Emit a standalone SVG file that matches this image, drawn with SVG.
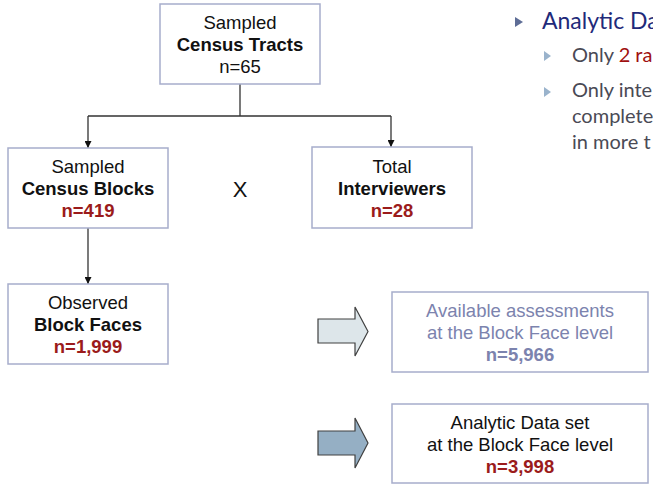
<svg xmlns="http://www.w3.org/2000/svg" width="653" height="487" viewBox="0 0 653 487">
<defs>
<style>
.box{fill:#fff;stroke:#A7ADCB;stroke-width:1.5}
.t{font-family:"Liberation Sans",Arial,sans-serif;font-size:18.5px;text-anchor:middle;fill:#111}
.b{font-weight:bold}
.r{fill:#9B1B1B;font-weight:bold}
.g{fill:#7C83AE}
.conn{fill:none;stroke:#333;stroke-width:1.3}
.arw{stroke:#404040;stroke-width:1.2}
.side{font-family:"Lato","Open Sans",sans-serif;font-size:20px;fill:#4A4A55}
</style>
<marker id="ah" viewBox="0 0 10 10" refX="10" refY="5" markerWidth="7" markerHeight="7" markerUnits="userSpaceOnUse" orient="auto"><path d="M0,0L10,5L0,10z" fill="#111"/></marker>
</defs>
<g id="connectors">
<path class="conn" d="M240,84V116M88,116H391M88,116V148" marker-end="url(#ah)"/>
<path class="conn" d="M391,116V147" marker-end="url(#ah)"/>
<path class="conn" d="M88,228V284" marker-end="url(#ah)"/>
</g>
<g id="tracts">
<rect class="box" x="160" y="4" width="160" height="80"/>
<text class="t" x="240" y="29">Sampled</text>
<text class="t b" x="240" y="51">Census Tracts</text>
<text class="t" x="240" y="73">n=65</text>
</g>
<g id="blocks">
<rect class="box" x="8" y="148" width="160" height="80"/>
<text class="t" x="88" y="173">Sampled</text>
<text class="t b" x="88" y="195">Census Blocks</text>
<text class="t r" x="88" y="217">n=419</text>
</g>
<text class="t" x="240" y="197" style="font-size:22px">X</text>
<g id="interviewers">
<rect class="box" x="312" y="147" width="160" height="81"/>
<text class="t" x="392" y="173">Total</text>
<text class="t b" x="392" y="195">Interviewers</text>
<text class="t r" x="392" y="217">n=28</text>
</g>
<g id="faces">
<rect class="box" x="8" y="284" width="160" height="80"/>
<text class="t" x="88" y="309">Observed</text>
<text class="t b" x="88" y="331">Block Faces</text>
<text class="t r" x="88" y="353">n=1,999</text>
</g>
<g id="arrow1">
<path class="arw" fill="#DDE6EA" d="M318,319H355V307L368,331.5L355,356V343H318Z"/>
</g>
<g id="available">
<rect class="box" x="392" y="292" width="256" height="80"/>
<text class="t g" x="520" y="317">Available assessments</text>
<text class="t g" x="520" y="339">at the Block Face level</text>
<text class="t g b" x="520" y="361">n=5,966</text>
</g>
<g id="arrow2">
<path class="arw" fill="#95AFC4" d="M318,431H355V418L368,443L355,468V455H318Z"/>
</g>
<g id="analytic">
<rect class="box" x="392" y="404" width="256" height="79"/>
<text class="t" x="520" y="429">Analytic Data set</text>
<text class="t" x="520" y="451">at the Block Face level</text>
<text class="t r" x="520" y="473">n=3,998</text>
</g>
<g id="side">
<path d="M515,17L523,22L515,27Z" fill="#5E6D96"/>
<text x="542" y="29" style="font-family:Lato,'Open Sans',sans-serif;font-size:23px;fill:#1F2A7A">Analytic Da</text>
<path d="M544,51L551,56L544,61Z" fill="#9AB3CC"/>
<text class="side" x="572" y="62">Only <tspan fill="#A01010">2 ra</tspan></text>
<path d="M544,87L551,92L544,97Z" fill="#9AB3CC"/>
<text class="side" x="572" y="97">Only inte</text>
<text class="side" x="572" y="123">complete</text>
<text class="side" x="572" y="149">in more t</text>
</g>
</svg>
